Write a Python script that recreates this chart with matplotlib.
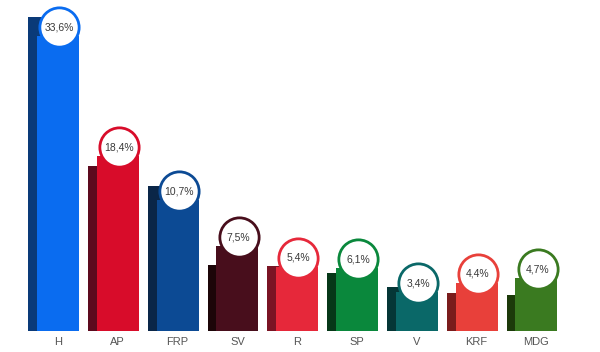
import matplotlib
matplotlib.use("Agg")
from matplotlib import pyplot as plt

parties = ["H", "AP", "FRP", "SV", "R", "SP", "V", "KRF", "MDG"]
labels = ["33,6%", "18,4%", "10,7%", "7,5%", "5,4%", "6,1%", "3,4%", "4,4%", "4,7%"]
# drawn heights of the bars (the infographic is not to scale)
front_heights = [295, 175, 131, 85, 64, 63, 39, 48, 53]
back_heights = [314, 165, 145, 66, 65, 58, 44, 38, 36]
front_colors = ["#0a6cf0", "#d80c2a", "#0c4a94", "#480e1c", "#e6283a",
                "#0a883c", "#0a6868", "#e8403a", "#3a7a20"]
back_colors = ["#0a3a78", "#5c0a1e", "#0a2648", "#1c0508", "#7a1424",
               "#063818", "#053636", "#7a1c1c", "#1c3a0a"]

fig = plt.figure(figsize=(6.0, 3.52), dpi=100)
ax = fig.add_axes([0, 0, 1, 1])
ax.set_xlim(-58 / 59.8, 542 / 59.8)
ax.set_ylim(-21, 331)
ax.axis("off")

x = list(range(len(parties)))
ax.bar([i - 0.15 for i in x], back_heights, width=0.7, color=back_colors, zorder=1)
ax.bar(x, front_heights, width=0.7, color=front_colors, zorder=2)

font = ["Liberation Sans", "DejaVu Sans"]
for i in x:
    cy = front_heights[i] + 9
    ax.scatter(i + 0.02, cy, s=800, facecolor="white", edgecolor=front_colors[i],
               linewidth=2.0, zorder=3)
    ax.text(i + 0.02, cy, labels[i], ha="center", va="center", fontsize=7.5,
            color="#3a3a3a", zorder=4, family=font)
    ax.text(i, -11, parties[i], ha="center", va="center", fontsize=8,
            color="#555555", family=font)

fig.savefig("out.png", dpi=100)
